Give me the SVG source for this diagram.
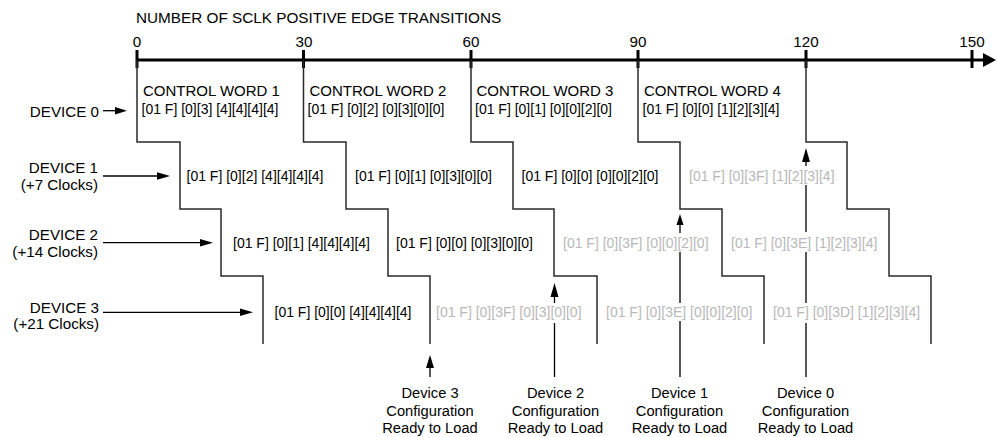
<svg xmlns="http://www.w3.org/2000/svg" width="997" height="437" viewBox="0 0 997 437">
<style>
text{font-family:"Liberation Sans",Arial,sans-serif;fill:#000}
.lbl{font-size:14.7px}
.dl{font-size:15.2px}
.ttl{font-size:15.3px}
.cw{font-size:15px}
.d{font-size:14px}
.g{font-size:14px;fill:#b8b8b8}
.mid{text-anchor:middle}
.end{text-anchor:end}
.stair{fill:none;stroke:#2a2a2a;stroke-width:1.5}
.arr{fill:none;stroke:#000;stroke-width:1.3}
.axis{stroke:#000;stroke-width:3;fill:none}
</style>
<rect width="997" height="437" fill="#fff"/>
<g id="axis">
<text class="ttl" x="136" y="22.5">NUMBER OF SCLK POSITIVE EDGE TRANSITIONS</text>
<line class="axis" x1="137" y1="60" x2="985" y2="60"/>
<polygon points="983,53 996,60 983,67" fill="#000"/>
<path class="axis" d="M137,50V68M303.5,50V68M471,50V68M638,50V68M806,50V68M972,50V68"/>
<text class="dl mid" x="137" y="46.5">0</text>
<text class="dl mid" x="304" y="46.5">30</text>
<text class="dl mid" x="471" y="46.5">60</text>
<text class="dl mid" x="638" y="46.5">90</text>
<text class="dl mid" x="806" y="46.5">120</text>
<text class="dl mid" x="972" y="46.5">150</text>
</g>
<g id="connectors">
<path class="stair" d="M137,60V142H180V209H221V276H263V344"/>
<path class="stair" d="M303.5,60V142H346V209H388V276H430V344"/>
<path class="stair" d="M471,60V142H513V209H554V276H597V344"/>
<path class="stair" d="M638,60V142H680V209H722V276H764V344"/>
<path class="stair" d="M806,60V142H847V209H889V276H931V344"/>
<line class="arr" x1="103" y1="110.7" x2="118" y2="110.7"/>
<polygon points="115,107 127,110.7 115,114.4"/>
<line class="arr" x1="103" y1="176" x2="160" y2="176"/>
<polygon points="157,172.3 170,176 157,179.7"/>
<line class="arr" x1="103" y1="242.7" x2="203" y2="242.7"/>
<polygon points="200,239 213,242.7 200,246.4"/>
<line class="arr" x1="103" y1="312.3" x2="243" y2="312.3"/>
<polygon points="240,308.6 253,312.3 240,316"/>
<polygon points="430,355 426,368 434,368"/>
<path class="arr" d="M430,367V377"/>
<polygon points="554.5,283 550.5,297 558.5,297"/>
<path class="arr" d="M554.5,296V303M554.5,323V377"/>
<polygon points="680,214 676.5,225 683.5,225"/>
<path class="arr" d="M680,224V233M680,252V303M680,321V377"/>
<polygon points="806,148 802,162 810,162"/>
<path class="arr" d="M806,161V166M806,185V232M806,252V303M806,323V377"/>
</g>
<g id="device0">
<text class="dl end" x="99" y="116.5">DEVICE 0</text>
<text class="cw" x="143" y="95.5">CONTROL WORD 1</text>
<text class="cw" x="309.5" y="95.5">CONTROL WORD 2</text>
<text class="cw" x="476.5" y="95.5">CONTROL WORD 3</text>
<text class="cw" x="644" y="95.5">CONTROL WORD 4</text>
<text class="d" x="141.5" y="114">[01 F] [0][3] [4][4][4][4]</text>
<text class="d" x="307.5" y="114">[01 F] [0][2] [0][3][0][0]</text>
<text class="d" x="475" y="114">[01 F] [0][1] [0][0][2][0]</text>
<text class="d" x="642.5" y="114">[01 F] [0][0] [1][2][3][4]</text>
</g>
<g id="device1">
<text class="dl end" x="98" y="173">DEVICE 1</text>
<text class="dl end" x="98" y="190">(+7 Clocks)</text>
<text class="d" x="186.5" y="180.5">[01 F] [0][2] [4][4][4][4]</text>
<text class="d" x="355" y="180.5">[01 F] [0][1] [0][3][0][0]</text>
<text class="d" x="521.5" y="180.5">[01 F] [0][0] [0][0][2][0]</text>
<text class="g" x="689" y="180.5">[01 F] [0][3F] [1][2][3][4]</text>
</g>
<g id="device2">
<text class="dl end" x="98" y="239.5">DEVICE 2</text>
<text class="dl end" x="98" y="256.5">(+14 Clocks)</text>
<text class="d" x="233" y="247.5">[01 F] [0][1] [4][4][4][4]</text>
<text class="d" x="396" y="247.5">[01 F] [0][0] [0][3][0][0]</text>
<text class="g" x="563" y="247.5">[01 F] [0][3F] [0][0][2][0]</text>
<text class="g" x="731" y="247.5">[01 F] [0][3E] [1][2][3][4]</text>
</g>
<g id="device3">
<text class="dl end" x="99" y="312.5">DEVICE 3</text>
<text class="dl end" x="99" y="328.5">(+21 Clocks)</text>
<text class="d" x="274.5" y="316.5">[01 F] [0][0] [4][4][4][4]</text>
<text class="g" x="436" y="316.5">[01 F] [0][3F] [0][3][0][0]</text>
<text class="g" x="606" y="316.5">[01 F] [0][3E] [0][0][2][0]</text>
<text class="g" x="773" y="316.5">[01 F] [0][3D] [1][2][3][4]</text>
</g>
<g id="ready3">
<text class="lbl mid" x="430" y="398">Device 3</text>
<text class="lbl mid" x="430" y="415.5">Configuration</text>
<text class="lbl mid" x="430" y="433">Ready to Load</text>
</g>
<g id="ready2">
<text class="lbl mid" x="555.5" y="398">Device 2</text>
<text class="lbl mid" x="555.5" y="415.5">Configuration</text>
<text class="lbl mid" x="555.5" y="433">Ready to Load</text>
</g>
<g id="ready1">
<text class="lbl mid" x="679.5" y="398">Device 1</text>
<text class="lbl mid" x="679.5" y="415.5">Configuration</text>
<text class="lbl mid" x="679.5" y="433">Ready to Load</text>
</g>
<g id="ready0">
<text class="lbl mid" x="805.5" y="398">Device 0</text>
<text class="lbl mid" x="805.5" y="415.5">Configuration</text>
<text class="lbl mid" x="805.5" y="433">Ready to Load</text>
</g>
</svg>
